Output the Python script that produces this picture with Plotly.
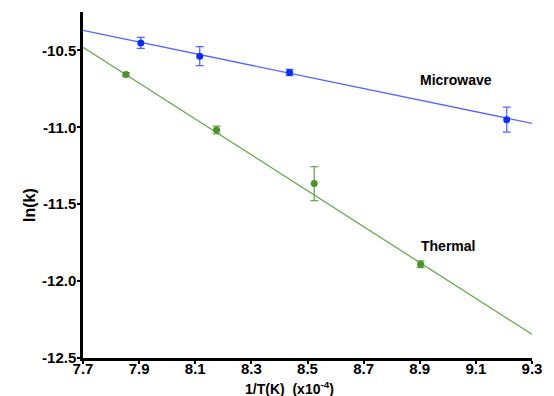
import plotly.graph_objects as go

# Data
mw_x = [7.906, 8.116, 8.436, 9.210]
mw_y = [-10.451, -10.537, -10.643, -10.950]
mw_err = [0.036, 0.062, 0.02, 0.081]

th_x = [7.853, 8.176, 8.524, 8.903]
th_y = [-10.656, -11.017, -11.366, -11.890]
th_err = [0.012, 0.025, 0.11, 0.022]

mw_fit_x = [7.7, 9.3]
mw_fit_y = [-10.37, -10.974]
th_fit_x = [7.7, 9.3]
th_fit_y = [-10.479, -12.346]

x_ticks = [7.7, 7.9, 8.1, 8.3, 8.5, 8.7, 8.9, 9.1, 9.3]
y_ticks = [-10.5, -11.0, -11.5, -12.0, -12.5]

BLUE_LINE = "#5566ff"
BLUE_MK = "#0a2cf5"
GREEN_LINE = "#6aa84f"
GREEN_MK = "#4e8f2e"

fig = go.Figure()
fig.add_trace(go.Scatter(x=mw_fit_x, y=mw_fit_y, mode="lines",
                         line=dict(color=BLUE_LINE, width=1.3), hoverinfo="skip"))
fig.add_trace(go.Scatter(x=th_fit_x, y=th_fit_y, mode="lines",
                         line=dict(color=GREEN_LINE, width=1.3), hoverinfo="skip"))
fig.add_trace(go.Scatter(x=mw_x, y=mw_y, mode="markers",
                         marker=dict(color=BLUE_MK, size=7),
                         error_y=dict(type="data", array=mw_err, color=BLUE_LINE,
                                      thickness=1.3, width=4)))
fig.add_trace(go.Scatter(x=th_x, y=th_y, mode="markers",
                         marker=dict(color=GREEN_MK, size=7),
                         error_y=dict(type="data", array=th_err, color=GREEN_LINE,
                                      thickness=1.3, width=4)))

FAM = "Liberation Sans, Arial, sans-serif"
font = dict(family=FAM, size=14, color="black", weight="bold")
tickfont = dict(family=FAM, size=15, color="black", weight="bold")

fig.add_annotation(x=9.03, y=-10.695, text="Microwave", showarrow=False, font=font)
fig.add_annotation(x=9.0, y=-11.773, text="Thermal", showarrow=False, font=font)
fig.add_annotation(x=0.46, y=-0.087, xref="paper", yref="paper", yanchor="middle",
                   text="1/T(K)  (x10<sup>-4</sup>)", showarrow=False, font=font)
fig.add_annotation(x=-0.142, y=-11.507, xref="paper", yref="y", showarrow=False,
                   text="ln(k)", textangle=-90,
                   font=dict(family=FAM, size=16, color="black", weight="bold"))

fig.update_layout(
    width=554, height=396,
    margin=dict(l=83, r=14, t=12, b=38),
    plot_bgcolor="white", paper_bgcolor="white",
    showlegend=False,
    font=font,
)
fig.update_xaxes(range=[7.7, 9.3], tickvals=x_ticks,
                 ticktext=[f"{v:.1f}" for v in x_ticks],
                 showgrid=False, zeroline=False, showline=True, linecolor="black",
                 linewidth=2.5, ticks="outside", ticklen=3, tickwidth=1.5,
                 tickcolor="black", tickfont=tickfont, ticklabelstandoff=-8)
fig.update_yaxes(range=[-12.5, -10.25], tickvals=y_ticks,
                 ticktext=[f"{v:.1f}" for v in y_ticks],
                 showgrid=False, zeroline=False, showline=True, linecolor="black",
                 linewidth=2.5, ticks="outside", ticklen=3, tickwidth=1.5,
                 tickcolor="black", tickfont=tickfont, ticklabelstandoff=-2)

fig.write_html("out.html")
